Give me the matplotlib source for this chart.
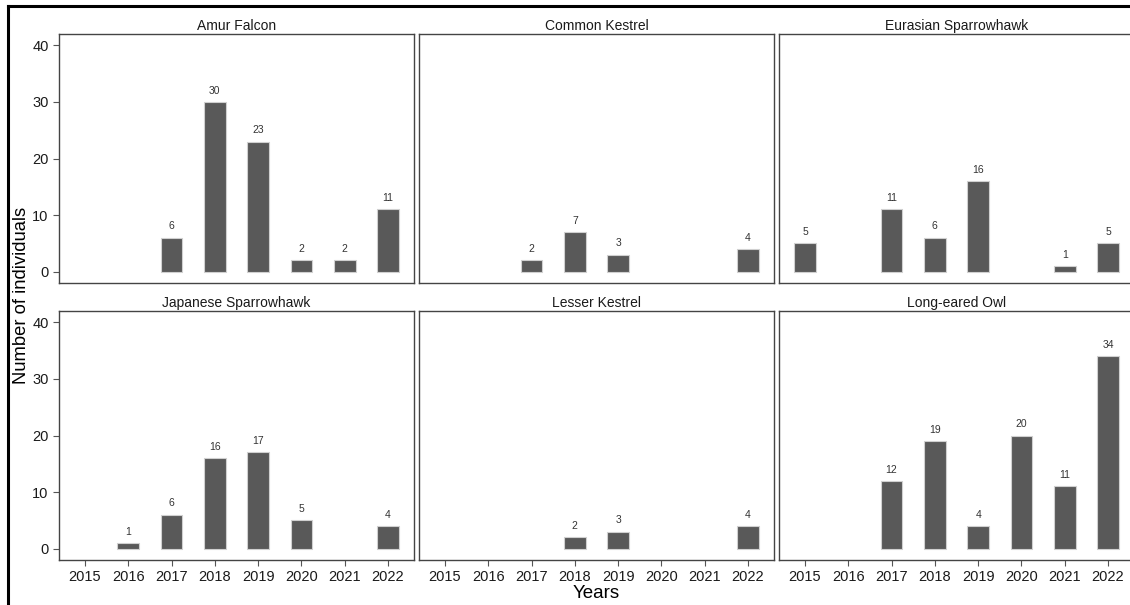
import matplotlib
matplotlib.use("Agg")
from matplotlib import pyplot as plt
from matplotlib.lines import Line2D
import numpy as np

plt.rcParams['font.family'] = ['Liberation Sans', 'DejaVu Sans']

years = [2015, 2016, 2017, 2018, 2019, 2020, 2021, 2022]
species = ["Amur Falcon", "Common Kestrel", "Eurasian Sparrowhawk",
           "Japanese Sparrowhawk", "Lesser Kestrel", "Long-eared Owl"]
amur_falcon = [0, 0, 6, 30, 23, 2, 2, 11]
common_kestrel = [0, 0, 2, 7, 3, 0, 0, 4]
eurasian_sparrowhawk = [5, 0, 11, 6, 16, 0, 1, 5]
japanese_sparrowhawk = [0, 1, 6, 16, 17, 5, 0, 4]
lesser_kestrel = [0, 0, 0, 2, 3, 0, 0, 4]
long_eared_owl = [0, 0, 12, 19, 4, 20, 11, 34]
counts = [amur_falcon, common_kestrel, eurasian_sparrowhawk,
          japanese_sparrowhawk, lesser_kestrel, long_eared_owl]
yticks = [0, 10, 20, 30, 40]

W, H = 1130, 605
fig = plt.figure(figsize=(W/100, H/100), dpi=100)

# panel geometry in pixels
left0, pw, gap = 59, 355, 5
tops = [34, 311]
ph = 249

for i, (name, vals) in enumerate(zip(species, counts)):
    r, c = divmod(i, 3)
    x0 = left0 + c*(pw + gap)
    y0 = tops[r]
    ax = fig.add_axes([x0/W, 1 - (y0 + ph)/H, pw/W, ph/H])
    yrs = [y for y, v in zip(years, vals) if v > 0]
    vs = [v for v in vals if v > 0]
    ax.bar(yrs, vs, width=0.5, color='#595959', edgecolor='#d0d0d0', linewidth=0.8)
    for y, v in zip(yrs, vs):
        ax.annotate(str(v), (y, v), xytext=(0, 4.5), textcoords='offset points',
                    ha='center', va='bottom', fontsize=7.5, color='#333333')
    ax.set_xlim(2014.4, 2022.6)
    ax.set_ylim(-2, 42)
    ax.set_xticks(years)
    ax.set_yticks(yticks)
    for s in ax.spines.values():
        s.set_color('#444444')
        s.set_linewidth(1.0)
    ax.tick_params(colors='#555555', labelcolor='#1a1a1a', length=4, width=0.8, labelsize=10.5)
    if c != 0:
        ax.tick_params(axis='y', left=False, labelleft=False)
    if r == 0:
        ax.tick_params(axis='x', bottom=False, labelbottom=False)
    ax.set_title(name, fontsize=10, color='#1a1a1a', pad=3)

fig.text((59 + 1134)/2/W, 1 - 593/H, "Years", ha='center', va='center', fontsize=13.5)
fig.text(22/W, 1 - 295/H, "Number of individuals", ha='center', va='center',
         rotation=90, fontsize=13.2)

# outer frame (image is cropped on the right and bottom)
fig.add_artist(Line2D([8/W, 1], [1 - 6/H, 1 - 6/H], color='black', lw=2.2))
fig.add_artist(Line2D([8/W, 8/W], [0, 1 - 6/H], color='black', lw=2.2))

fig.savefig("out.png", dpi=100)
